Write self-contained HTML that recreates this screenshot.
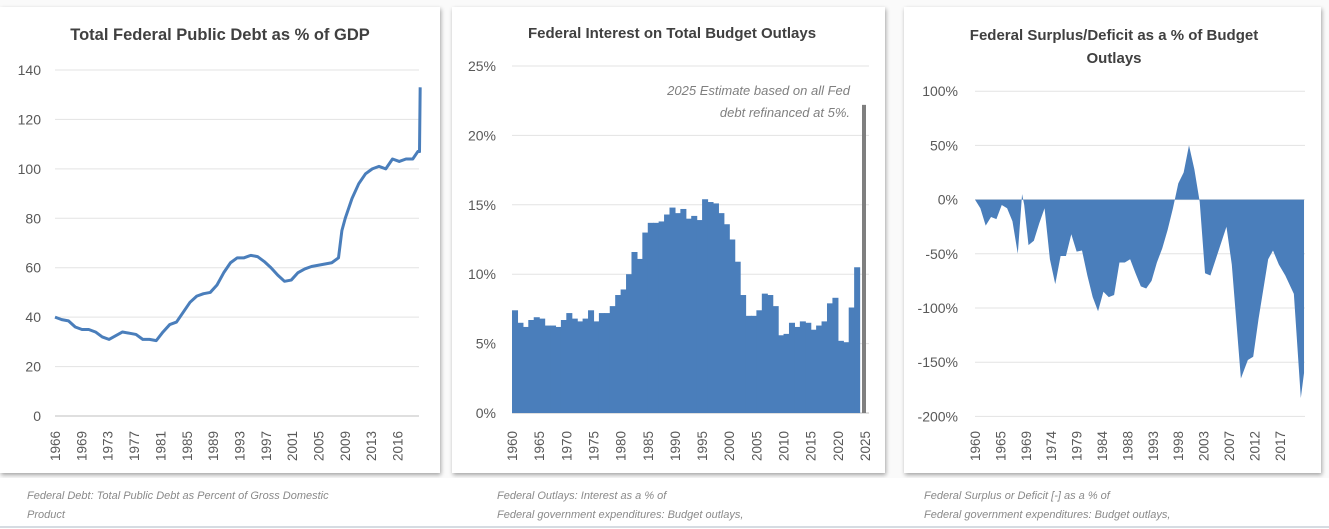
<!DOCTYPE html>
<html><head><meta charset="utf-8"><style>
html,body{margin:0;padding:0;background:#fff;width:1329px;height:529px;overflow:hidden;font-family:"Liberation Sans",sans-serif}
.t{font-family:"Liberation Sans",sans-serif;fill:#595959}
</style></head><body>
<svg id="svg" width="1329" height="529" xmlns="http://www.w3.org/2000/svg">
<defs><filter id="sh" x="-5%" y="-5%" width="110%" height="110%"><feDropShadow dx="1" dy="2" stdDeviation="2" flood-color="#000" flood-opacity="0.35"/></filter></defs>
<rect x="0" y="0" width="1329" height="529" fill="#fafafa"/>
<rect x="0" y="7" width="440" height="466" fill="#fff" filter="url(#sh)"/>
<rect x="452" y="7" width="433" height="466" fill="#fff" filter="url(#sh)"/>
<rect x="904" y="7" width="417" height="466" fill="#fff" filter="url(#sh)"/>
<rect x="0" y="478" width="1329" height="51" fill="#fff"/>
<line x1="0" y1="527" x2="1329" y2="527" stroke="#c8d0d8" stroke-width="1.5"/>
<text x="220" y="40" text-anchor="middle" font-size="16.5" font-weight="bold" fill="#404040">Total Federal Public Debt as % of GDP</text>
<text x="672" y="38" text-anchor="middle" font-size="15" font-weight="bold" fill="#404040">Federal Interest on Total Budget Outlays</text>
<text x="1114" y="40" text-anchor="middle" font-size="15" font-weight="bold" fill="#404040">Federal Surplus/Deficit as a % of Budget</text>
<text x="1114" y="63" text-anchor="middle" font-size="15" font-weight="bold" fill="#404040">Outlays</text>
<text x="850" y="95" text-anchor="end" font-size="13" font-style="italic" fill="#7f7f7f">2025 Estimate based on all Fed</text>
<text x="850" y="117" text-anchor="end" font-size="13" font-style="italic" fill="#7f7f7f">debt refinanced at 5%.</text>
<g font-size="11" font-style="italic" fill="#8a8a8a">
<text x="27" y="499">Federal Debt: Total Public Debt as Percent of Gross Domestic</text>
<text x="27" y="518">Product</text>
<text x="497" y="499">Federal Outlays: Interest as a % of</text>
<text x="497" y="518">Federal government expenditures: Budget outlays,</text>
<text x="924" y="499">Federal Surplus or Deficit [-] as a % of</text>
<text x="924" y="518">Federal government expenditures: Budget outlays,</text>
</g>
<g id="g1"></g><g id="g2"></g><g id="g3"></g>
</svg>
<script>
const debtYears=[1966,1967,1968,1969,1970,1971,1972,1973,1974,1975,1976,1977,1978,1979,1980,1981,1982,1983,1984,1985,1986,1987,1988,1989,1990,1991,1992,1993,1994,1995,1996,1997,1998,1999,2000,2001,2002,2003,2004,2005,2006,2007,2008,2008.5,2009,2010,2011,2012,2013,2014,2015,2016,2017,2018,2019,2019.75,2020,2020.1];
const debtValues=[40,39,38.5,36,35,35,34,32,31,32.5,34,33.5,33,31,31,30.5,34,37,38,42,46,48.5,49.5,50,53,58,62,64,64,65,64.5,62.5,60,57,54.5,55,58,59.5,60.5,61,61.5,62,64,75,80,88,94,98,100,101,100,104,103,104,104,107,107,133];
const debtTicks=[0,20,40,60,80,100,120,140];
const debtLabels=["1966","1969","1973","1977","1981","1985","1989","1993","1997","2001","2005","2009","2013","2016"];

const intYears=[];for(let y=1960;y<=2024;y++)intYears.push(y);
const intValues=[7.4,6.5,6.2,6.7,6.9,6.8,6.3,6.3,6.2,6.7,7.2,6.8,6.6,6.8,7.4,6.6,7.2,7.2,7.7,8.5,8.9,10.0,11.6,11.1,13.0,13.7,13.7,13.8,14.3,14.8,14.4,14.7,14.0,14.2,13.9,15.4,15.2,15.1,14.4,13.6,12.5,10.9,8.5,7.0,7.0,7.4,8.6,8.5,7.7,5.6,5.7,6.5,6.2,6.6,6.5,6.0,6.3,6.6,7.9,8.3,5.2,5.1,7.6,10.5,0];
const estimateYear=2025, estimateValue=22.2;
const intTicks=[0,5,10,15,20,25];
const intLabels=["1960","1965","1970","1975","1980","1985","1990","1995","2000","2005","2010","2015","2020","2025"];

const defYears=[1960,1961,1962,1963,1964,1965,1966,1967,1968,1968.8,1969.2,1970,1971,1972,1973,1974,1975,1976,1977,1978,1979,1980,1981,1982,1983,1984,1985,1986,1987,1988,1989,1990,1991,1992,1993,1994,1995,1996,1997,1998,1999,2000,2001,2002,2003,2004,2005,2006,2007,2008,2009.7,2011,2012,2013,2014.8,2015.7,2016.8,2018,2019.6,2020.9,2021.5];
const defValues=[0,-8,-24,-16,-18,-5,-8,-20,-50,5,-5,-42,-38,-22,-8,-55,-78,-52,-52,-32,-48,-47,-70,-90,-103,-85,-90,-88,-58,-58,-55,-68,-80,-82,-75,-58,-45,-28,-8,15,25,50,28,-2,-68,-70,-55,-40,-25,-60,-165,-148,-145,-110,-55,-47,-60,-70,-87,-183,-160];
const defTicks=[-200,-150,-100,-50,0,50,100];
const defLabels=["1960","1965","1969","1974","1979","1984","1988","1993","1998","2003","2007","2012","2017"];

const NS="http://www.w3.org/2000/svg";
function mk(parent,tag,attrs){const e=document.createElementNS(NS,tag);for(const k in attrs)e.setAttribute(k,attrs[k]);parent.appendChild(e);return e;}
const BLUE="#4a7ebb";

(function(){
const g=document.getElementById('g1');
const y=v=>416-(v/140)*346, x=yr=>55+(yr-1966)*6.75;
debtTicks.forEach(t=>{
 const l=mk(g,'line',{x1:55,x2:419,y1:y(t),y2:y(t),stroke:t===0?'#bfbfbf':'#e3e3e3'});
 
 
 const tx=mk(g,'text',{x:41,y:y(t)+5,'text-anchor':'end','font-size':14,class:'t'});tx.textContent=t;
 
 
});
debtLabels.forEach((s,i)=>{
 const px=55+i*26.35;
 const tx=mk(g,'text',{transform:`translate(${px+5},461) rotate(-90)`,'font-size':13.5,class:'t'});tx.textContent=s;
 
 
});
const p=mk(g,'polyline',{points:debtYears.map((yr,i)=>x(yr)+','+y(debtValues[i])).join(' '),fill:'none',stroke:BLUE,'stroke-width':3,'stroke-linejoin':'round'});


})();

(function(){
const g=document.getElementById('g2');
const y=v=>413-(v/25)*347, w=(865-512)/65, x=yr=>512+(yr-1960)*w;
intTicks.forEach(t=>{
 const l=mk(g,'line',{x1:512,x2:869,y1:y(t),y2:y(t),stroke:t===0?'#bfbfbf':'#e3e3e3'});
 
 
 const tx=mk(g,'text',{x:496,y:y(t)+5,'text-anchor':'end','font-size':14,class:'t'});tx.textContent=t+'%';
 
 
});
intLabels.forEach((s,i)=>{
 const px=x(+s);
 const tx=mk(g,'text',{transform:`translate(${px+5},461) rotate(-90)`,'font-size':13.5,class:'t'});tx.textContent=s;
 
 
});
intYears.forEach((yr,i)=>{
 const v=intValues[i]; if(!v) return;
 const r=mk(g,'rect',{x:x(yr),y:y(v),width:w+0.6,height:y(0)-y(v),fill:BLUE});
 
 
});
const e=mk(g,'rect',{x:x(estimateYear)-3,y:y(estimateValue),width:4,height:y(0)-y(estimateValue),fill:'#7f7f7f'});


})();

(function(){
const g=document.getElementById('g3');
const y=v=>199.6-(v/50)*54.2, x=yr=>975+(yr-1960)*5.35;
defTicks.forEach(t=>{
 const l=mk(g,'line',{x1:975,x2:1305,y1:y(t),y2:y(t),stroke:'#e3e3e3'});
 
 
 const tx=mk(g,'text',{x:958,y:y(t)+5,'text-anchor':'end','font-size':14,class:'t'});tx.textContent=t+'%';
 
 
});
defLabels.forEach((s,i)=>{
 const px=975+i*25.4;
 const tx=mk(g,'text',{transform:`translate(${px+5},461) rotate(-90)`,'font-size':13.5,class:'t'});tx.textContent=s;
 
 
});
let d='M'+x(defYears[0])+','+y(0);
defYears.forEach((yr,i)=>{d+=' L'+x(yr)+','+y(defValues[i]);});
d+=' L'+x(defYears[defYears.length-1])+','+y(0)+' Z';
const a=mk(g,'path',{d:d,fill:BLUE});


})();
</script>
</body></html>
